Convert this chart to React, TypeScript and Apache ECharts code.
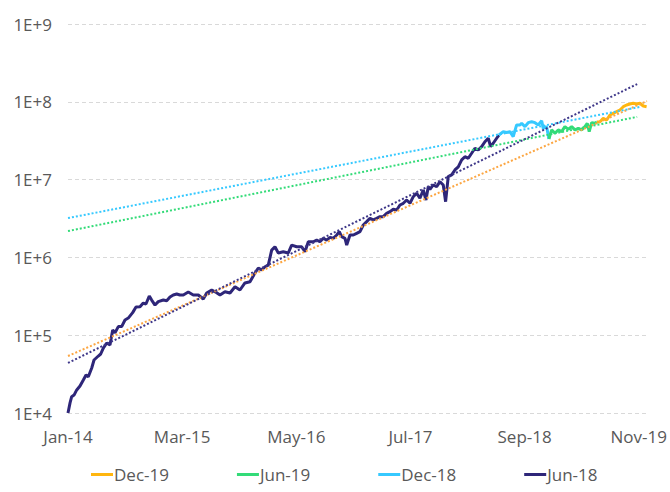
import React, { useEffect, useRef } from "react";
import * as echarts from "echarts";

// x = months since Jan 2014
const xTickLabels = ["Jan-14", "Mar-15", "May-16", "Jul-17", "Sep-18", "Nov-19"];
const seriesNames = ["Dec-19", "Jun-19", "Dec-18", "Jun-18"];
const seriesColors = ["#FFB60F", "#33DB78", "#36C9FF", "#2E2679"];
const trendColors = ["#FCA642", "#33DB78", "#36C9FF", "#3E3789"];

const jun18: [number, number][] = [
  [0, 1.0e4], [0.25, 1.35e4], [0.45, 1.62e4], [0.74, 1.7e4], [1.07, 1.98e4], [1.47, 2.22e4],
  [1.88, 2.66e4], [2.21, 3.08e4], [2.49, 2.93e4], [2.91, 3.79e4], [3.19, 4.8e4], [3.72, 5.4e4],
  [4.01, 5.73e4], [4.33, 6.84e4], [4.75, 7.94e4], [5.15, 7.48e4], [5.48, 1.17e5], [5.76, 1.07e5],
  [6.17, 1.29e5], [6.58, 1.29e5], [6.99, 1.57e5], [7.39, 1.66e5], [7.93, 1.95e5], [8.34, 2.3e5],
  [8.83, 2.32e5], [9.23, 2.59e5], [9.56, 2.52e5], [9.97, 3.19e5], [10.26, 2.83e5], [10.67, 2.44e5],
  [11.07, 2.7e5], [11.69, 2.83e5], [12.1, 2.77e5], [12.51, 3.1e5], [12.91, 3.29e5], [13.33, 3.39e5],
  [13.73, 3.29e5], [14.14, 3.29e5], [14.75, 3.59e5], [15.36, 3.29e5], [15.98, 3.29e5], [16.59, 2.92e5],
  [17.01, 3.49e5], [17.62, 3.81e5], [18.23, 3.52e5], [18.64, 3.29e5], [19.25, 3.62e5], [19.87, 3.49e5],
  [20.48, 4.2e5], [21.09, 3.81e5], [21.7, 4.69e5], [22.32, 4.87e5], [22.93, 6.3e5], [23.34, 7.31e5],
  [23.75, 6.89e5], [24.16, 7.59e5], [24.56, 7.97e5], [24.98, 1.24e6], [25.38, 1.37e6], [25.79, 1.14e6],
  [26.4, 1.18e6], [27.01, 1.14e6], [27.43, 1.44e6], [28.04, 1.37e6], [28.66, 1.37e6], [29.06, 1.18e6],
  [29.47, 1.59e6], [30.08, 1.59e6], [30.5, 1.67e6], [30.9, 1.59e6], [31.31, 1.76e6], [31.72, 1.67e6],
  [32.13, 1.81e6], [32.53, 1.76e6], [32.95, 1.94e6], [33.27, 2.14e6], [33.56, 1.85e6], [33.97, 1.76e6],
  [34.18, 1.44e6], [34.58, 1.94e6], [34.99, 1.94e6], [35.4, 2.04e6], [35.81, 2.14e6], [36.21, 2.61e6],
  [36.63, 2.88e6], [37.03, 3.18e6], [37.44, 3.03e6], [37.85, 3.18e6], [38.26, 3.34e6], [38.66, 3.34e6],
  [39.08, 3.69e6], [39.48, 3.87e6], [39.89, 4.15e6], [40.31, 4.07e6], [40.71, 4.72e6], [41.12, 4.96e6],
  [41.53, 5.47e6], [41.94, 4.96e6], [42.34, 6.03e6], [42.76, 6.67e6], [43.16, 5.75e6], [43.57, 7.35e6],
  [43.9, 5.47e6], [44.18, 8.11e6], [44.39, 7.5e6], [44.79, 8.53e6], [45.21, 8.11e6], [45.62, 9.4e6],
  [46.02, 8.53e6], [46.31, 5.2e6], [46.63, 1.09e7], [47.05, 1.15e7], [47.45, 1.33e7], [47.86, 1.46e7],
  [48.28, 1.79e7], [48.68, 1.97e7], [49.09, 1.88e7], [49.5, 2.18e7], [49.91, 2.53e7], [50.31, 2.4e7],
  [50.73, 2.65e7], [51.13, 3.07e7], [51.54, 3.4e7], [51.83, 2.65e7], [52.15, 2.93e7], [52.57, 3.4e7],
  [52.85, 3.74e7],
];

const dec18: [number, number][] = [
  [52.85, 3.74e7], [53.38, 4.13e7], [53.79, 4.03e7], [54.2, 4.13e7], [54.6, 3.56e7], [55.02, 5.04e7],
  [55.43, 5.04e7], [55.63, 5.29e7], [56.04, 4.79e7], [56.44, 5.39e7], [56.86, 5.55e7], [57.27, 5.39e7],
  [57.67, 5.04e7], [58.09, 5.71e7], [58.28, 4.56e7], [58.7, 4.79e7], [58.98, 3.33e7],
];

const jun19: [number, number][] = [
  [58.98, 3.33e7], [59.31, 4.35e7], [59.72, 3.94e7], [60.12, 4.35e7], [60.54, 4.13e7], [60.94, 4.79e7],
  [61.35, 4.43e7], [61.77, 4.79e7], [62.17, 4.35e7], [62.58, 4.56e7], [62.99, 4.35e7], [63.4, 4.79e7],
  [63.68, 5.29e7], [63.92, 4.13e7], [64.22, 5.39e7], [64.62, 5.29e7], [64.87, 5.5e7],
];

const dec19: [number, number][] = [
  [64.87, 5.5e7], [65.24, 5.55e7], [65.64, 6.13e7], [66.06, 5.83e7], [66.46, 6.76e7], [66.87, 7.11e7],
  [67.28, 7.46e7], [67.69, 7.85e7], [68.1, 8.65e7], [68.51, 9.1e7], [68.91, 9.37e7], [69.32, 9.57e7],
  [69.74, 9.37e7], [70.14, 9.57e7], [70.55, 8.83e7], [70.96, 8.65e7],
];

// trend lines (start / end)
const trendDec19: [number, number][] = [[0, 5.4e4], [71, 1.02e8]];
const trendJun19: [number, number][] = [[0, 2.18e6], [69.8, 6.4e7]];
const trendDec18: [number, number][] = [[0, 3.2e6], [70.1, 8.57e7]];
const trendJun18: [number, number][] = [[0, 4.4e4], [69.8, 1.69e8]];

const FONT = "Open Sans";

export default function App() {
  const ref = useRef<HTMLDivElement>(null);
  useEffect(() => {
    if (!ref.current) return;
    const chart = echarts.init(ref.current, undefined, { renderer: "svg" });
    const mains = [dec19, jun19, dec18, jun18];
    const trends = [trendDec19, trendJun19, trendDec18, trendJun18];
    const series: any[] = [];
    trends.forEach((d, i) => {
      series.push({
        type: "line",
        name: seriesNames[i] + " trend",
        data: d,
        showSymbol: false,
        symbol: "none",
        lineStyle: { color: trendColors[i], width: 2, type: [2, 2] },
        z: 3,
        silent: true,
      });
    });
    // draw order: Jun-18 first so later segments overlay
    [3, 2, 1, 0].forEach((i) => {
      series.push({
        type: "line",
        name: seriesNames[i],
        data: mains[i],
        showSymbol: false,
        symbol: "none",
        color: seriesColors[i],
        lineStyle: { color: seriesColors[i], width: 3 },
        z: 2,
      });
    });
    chart.setOption({
      animation: false,
      backgroundColor: "#ffffff",
      grid: { left: 68, right: 23, top: 24, bottom: 79, containLabel: false },
      legend: {
        data: seriesNames.map((n) => ({ name: n, icon: "rect" })),
        bottom: 4,
        left: 86,
        itemWidth: 22,
        itemHeight: 3,
        itemGap: 68,
        textStyle: { fontFamily: FONT, fontSize: 17, color: "#595959", padding: [0, 0, 0, -4] },
      },
      xAxis: {
        type: "value",
        min: 0,
        max: 71,
        interval: 14,
        axisLine: { show: false },
        axisTick: { show: false },
        splitLine: { show: false },
        axisLabel: {
          margin: 15,
          fontFamily: FONT,
          fontSize: 17,
          color: "#595959",
          showMaxLabel: false,
          formatter: (v: number) => (v % 14 === 0 ? xTickLabels[v / 14] ?? "" : ""),
        },
      },
      yAxis: {
        type: "log",
        logBase: 10,
        min: 1e4,
        max: 1e9,
        axisLine: { show: false },
        axisTick: { show: false },
        splitLine: { show: true, lineStyle: { color: "#D9D9D9", type: [4, 3], width: 1 } },
        axisLabel: {
          margin: 16,
          fontFamily: FONT,
          fontSize: 17,
          color: "#595959",
          formatter: (v: number) => "1E+" + Math.round(Math.log10(v)),
        },
      },
      series,
    });
    return () => chart.dispose();
  }, []);
  return <div ref={ref} style={{ width: 670, height: 492, position: "absolute", left: 0, top: 0 }} />;
}
